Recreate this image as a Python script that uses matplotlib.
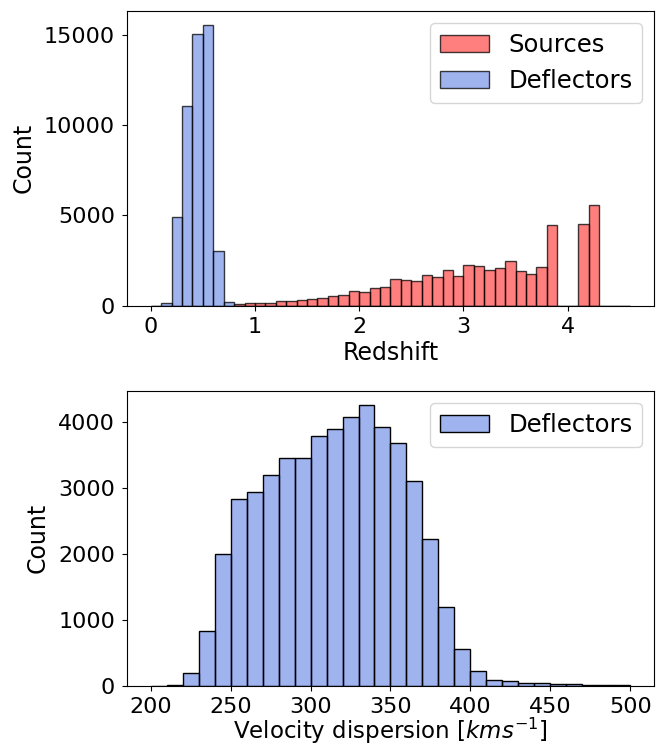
import numpy as np
import matplotlib
matplotlib.use("Agg")
import matplotlib.pyplot as plt

plt.rcParams['font.size'] = 17.5
plt.rcParams['axes.labelsize'] = 17
plt.rcParams['xtick.labelsize'] = 16
plt.rcParams['ytick.labelsize'] = 16
plt.rcParams['xtick.major.pad'] = 4.8
plt.rcParams['ytick.major.pad'] = 4.8

# redshift histogram, bins of 0.1 from 0 to 4.6
z_edges = np.round(np.arange(0, 4.65, 0.1), 2)
z_sources = [0, 0, 0, 0, 0, 0, 0, 0,
             90, 130, 165, 170, 240, 275, 330, 390, 445, 535, 590, 795,
             740, 960, 1020, 1490, 1440, 1385, 1680, 1570, 1995, 1660,
             2230, 2215, 1995, 2065, 2455, 1935, 1770, 2160, 4445, 0,
             0, 4520, 5555, 0, 0, 0]
z_deflectors = [0, 150, 4900, 11050, 15050, 15550, 3020, 190] + [0] * 38

# velocity dispersion histogram, bins of 10 from 200 to 500
v_edges = np.arange(200, 501, 10)
v_deflectors = [0, 5, 200, 825, 1995, 2820, 2930, 3190, 3445, 3445,
                3775, 3885, 4065, 4250, 3915, 3670, 3100, 2220, 1195, 550,
                225, 85, 65, 45, 40, 20, 30, 15, 15, 10]

red = (1.0, 0.0, 0.0, 0.5)
blue = (65/255, 105/255, 225/255, 0.5)
edge = (0, 0, 0, 0.75)

fig = plt.figure(figsize=(6.65, 7.49), dpi=100)
ax1 = fig.add_axes([0.1905, 0.5919, 0.7934, 0.3935])
ax2 = fig.add_axes([0.1905, 0.0845, 0.7934, 0.3935])

ax1.hist(z_edges[:-1], bins=z_edges, weights=z_sources, facecolor=red,
         edgecolor=edge, label='Sources')
ax1.hist(z_edges[:-1], bins=z_edges, weights=z_deflectors, facecolor=blue,
         edgecolor=edge, label='Deflectors')
ax1.set_xlabel('Redshift', labelpad=3)
ax1.set_ylabel('Count', labelpad=6)
ax1.legend(loc='upper right')

ax2.hist(v_edges[:-1], bins=v_edges, weights=v_deflectors,
         facecolor=blue, edgecolor='black', label='Deflectors')
ax2.set_xlabel(r'Velocity dispersion [$kms^{-1}$]', labelpad=-1, fontsize=16.5)
ax2.set_ylabel('Count', labelpad=6)
ax2.legend(loc='upper right')

fig.savefig('out.png', dpi=100)
